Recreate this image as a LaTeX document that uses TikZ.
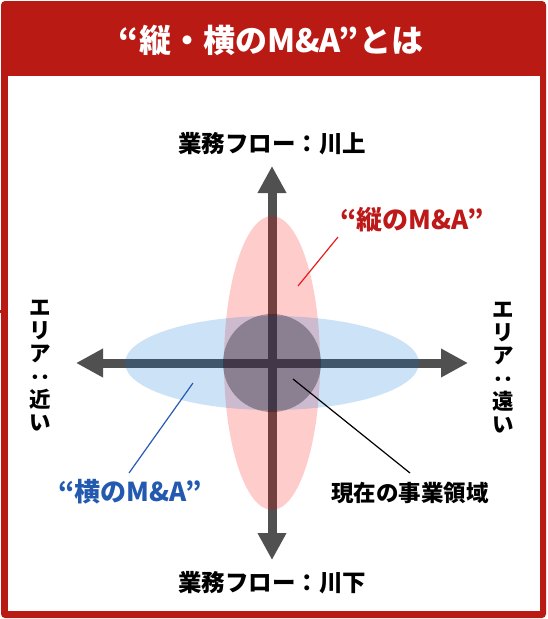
\documentclass[tikz,border=0pt]{standalone}
\usepackage{fontspec}
\usepackage{graphicx}
\usetikzlibrary{arrows.meta,shapes.geometric}
\newfontfamily\jp{Noto Sans CJK JP}
\definecolor{frame}{RGB}{186,26,20}
\definecolor{axis}{RGB}{80,80,80}
\definecolor{vred}{RGB}{255,0,0}
\definecolor{hblue}{RGB}{0,115,215}
\definecolor{core}{RGB}{20,20,35}
\definecolor{redtxt}{RGB}{190,25,25}
\definecolor{bluetxt}{RGB}{35,90,175}
\definecolor{redline}{RGB}{230,30,30}
\definecolor{blueline}{RGB}{40,90,180}
\newcommand{\vcolon}{\rotatebox[origin=c]{-90}{：}}
\begin{document}
\begin{tikzpicture}[x=1pt,y=-1pt,
  lbl/.style={font=\jp\bfseries\fontsize{23.5}{25}\selectfont, inner sep=0pt},
  mlbl/.style={font=\jp\bfseries\fontsize{26}{28}\selectfont, inner sep=0pt},
  clbl/.style={font=\jp\bfseries\fontsize{22.5}{24}\selectfont, inner sep=0pt},
  vlbl/.style={font=\jp\bfseries\fontsize{21.5}{23}\selectfont, inner sep=0pt, align=center},
  axisarrow/.style={draw=axis, line width=9pt, {Triangle[width=27pt,length=27pt]}-{Triangle[width=27pt,length=27pt]}},
  leader/.style={line width=1.2pt}
]
\useasboundingbox (0,0) rectangle (547,619);
% frame
\fill[frame, rounded corners=4pt] (1,1) rectangle (546,618);
\fill[white] (8,76) rectangle (540,611);
\fill[frame] (0,310) rectangle (4,313);
\node[font=\jp\bfseries\fontsize{32}{34}\selectfont, text=white, inner sep=0pt] (title) at (271,40) {“縦・横のM\&A”とは};
% axes
\coordinate (ytop) at (272,166);
\coordinate (ybot) at (272,560);
\coordinate (xleft) at (76,363);
\coordinate (xright) at (468,363);
\draw[axisarrow] (ybot) -- (ytop);
\draw[axisarrow] (xleft) -- (xright);
% ellipses
\coordinate (c) at (272,363);
\fill[vred, opacity=0.2] (c) ellipse [x radius=48, y radius=147];
\fill[hblue, opacity=0.2] (c) ellipse [x radius=147, y radius=47];
\fill[core, opacity=0.35] (c) circle [radius=49];
% labels
\node[lbl] (up) at (272,144) {業務フロー：川上};
\node[lbl] (down) at (272,583) {業務フロー：川下};
\node[vlbl] (near) at (40,366) {エ\\リ\\ア\\\vcolon\\近\\い};
\node[vlbl] (far) at (503,368) {エ\\リ\\ア\\\vcolon\\遠\\い};
\node[mlbl, text=redtxt] (vert) at (412,220) {“縦のM\&A”};
\node[mlbl, text=bluetxt] (horz) at (130,492) {“横のM\&A”};
\node[clbl] (cur) at (410,493) {現在の事業領域};
% leaders
\coordinate (vA) at (298,286);
\coordinate (vB) at (338,237);
\coordinate (hA) at (193,383);
\coordinate (hB) at (129,473);
\coordinate (cA) at (293,379);
\coordinate (cB) at (410,473);
\draw[leader, redline] (vA) -- (vB);
\draw[leader, blueline] (hA) -- (hB);
\draw[leader, black] (cA) -- (cB);
\end{tikzpicture}
\end{document}
